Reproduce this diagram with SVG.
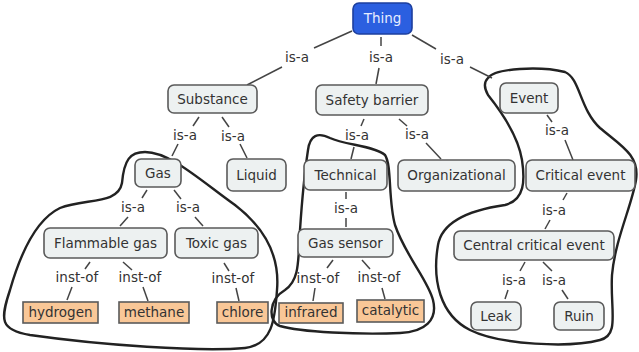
<svg xmlns="http://www.w3.org/2000/svg" width="639" height="352" viewBox="0 0 639 352">
<style>
.n rect{fill:#edf1f1;stroke:#5a5a5a;stroke-width:1.6}
.lf rect{fill:#f9c797;stroke:#5a5a5a;stroke-width:1.6}
text{font-family:"DejaVu Sans",Verdana,sans-serif;font-size:13.5px;fill:#333;text-anchor:middle}
.c line{stroke:#444;stroke-width:1.5}
.blob{fill:none;stroke:#222;stroke-width:2.4;stroke-linejoin:round}
</style>
<rect width="639" height="352" fill="#fff"/>
<g id="groups">
<path class="blob" d="M122,183 C124,160 130,152 145,152 C170,152 200,180 235,205 C265,228 280,255 277,290 C275,320 272,345 245,348 C200,352 100,345 30,335 C0,330 0,320 10,290 C20,255 35,220 60,208 C85,198 118,205 122,183 Z"/>
<path class="blob" d="M308,150 C310,135 318,132 330,138 C345,145 375,146 385,155 C392,165 388,200 395,225 C405,255 428,280 433,300 C438,320 425,332 400,333 C360,335 300,332 280,326 C268,322 268,300 285,290 C300,280 298,260 300,230 C302,200 305,170 308,150 Z"/>
<path class="blob" d="M488,78 C495,68 540,66 565,72 C580,78 580,110 600,128 C620,145 640,155 636,180 C632,205 615,240 612,275 C610,310 620,335 600,340 C570,348 500,345 470,330 C440,315 432,280 438,245 C442,222 470,210 505,205 C525,200 525,180 522,160 C518,135 500,110 488,95 C484,88 484,82 488,78 Z"/>
</g>
<g id="connectors" class="c">
<line x1="352" y1="31" x2="314" y2="48"/><line x1="282" y1="67" x2="247" y2="85"/>
<line x1="381" y1="37" x2="381" y2="46"/><line x1="379" y1="68" x2="376" y2="84"/>
<line x1="412" y1="35" x2="436" y2="49"/><line x1="470" y1="67" x2="492" y2="78"/>
<line x1="199" y1="117" x2="193" y2="126"/><line x1="178" y1="144" x2="172" y2="156"/>
<line x1="222" y1="117" x2="229" y2="127"/><line x1="240" y1="144" x2="247" y2="158"/>
<line x1="147" y1="190" x2="142" y2="198"/><line x1="128" y1="217" x2="120" y2="226"/>
<line x1="174" y1="190" x2="181" y2="199"/><line x1="195" y1="217" x2="203" y2="226"/>
<line x1="90" y1="262" x2="85" y2="269"/><line x1="72" y1="287" x2="67" y2="300"/>
<line x1="123" y1="262" x2="132" y2="270"/><line x1="143" y1="287" x2="148" y2="301"/>
<line x1="224" y1="263" x2="229" y2="271"/><line x1="236" y1="288" x2="239" y2="301"/>
<line x1="364" y1="119" x2="361" y2="126"/><line x1="354" y1="147" x2="351" y2="159"/>
<line x1="399" y1="119" x2="407" y2="126"/><line x1="426" y1="143" x2="441" y2="159"/>
<line x1="346" y1="192" x2="346" y2="199"/><line x1="346" y1="218" x2="346" y2="227"/>
<line x1="333" y1="260" x2="327" y2="268"/><line x1="315" y1="288" x2="313" y2="301"/>
<line x1="362" y1="260" x2="370" y2="269"/><line x1="382" y1="288" x2="385" y2="299"/>
<line x1="547" y1="115" x2="552" y2="122"/><line x1="565" y1="140" x2="573" y2="160"/>
<line x1="567" y1="193" x2="563" y2="200"/><line x1="550" y1="220" x2="545" y2="229"/>
<line x1="525" y1="262" x2="520" y2="271"/><line x1="508" y1="290" x2="505" y2="299"/>
<line x1="543" y1="262" x2="552" y2="271"/><line x1="562" y1="290" x2="568" y2="299"/>
</g>
<g id="labels">
<text x="297" y="62">is-a</text>
<text x="381" y="62">is-a</text>
<text x="452" y="64">is-a</text>
<text x="185" y="140">is-a</text>
<text x="233" y="141">is-a</text>
<text x="357" y="140">is-a</text>
<text x="417" y="139">is-a</text>
<text x="557" y="135">is-a</text>
<text x="133" y="212">is-a</text>
<text x="188" y="212">is-a</text>
<text x="346" y="213">is-a</text>
<text x="554" y="215">is-a</text>
<text x="77" y="282">inst-of</text>
<text x="140" y="282">inst-of</text>
<text x="233" y="283">inst-of</text>
<text x="318" y="283">inst-of</text>
<text x="379" y="282">inst-of</text>
<text x="514" y="285">is-a</text>
<text x="554" y="285">is-a</text>
</g>
<g id="thing"><rect x="353" y="3" width="59" height="31" rx="6" fill="#2b5fe0" stroke="#1d3f9e" stroke-width="1.6"/><text x="382.5" y="23" style="fill:#e6edff">Thing</text></g>
<g id="substance" class="n"><rect x="168" y="85" width="89" height="28" rx="6"/><text x="212.5" y="104">Substance</text></g>
<g id="safety-barrier" class="n"><rect x="316" y="85" width="112" height="30" rx="6"/><text x="372" y="105">Safety barrier</text></g>
<g id="event" class="n"><rect x="500" y="83" width="58" height="30" rx="6"/><text x="529" y="103">Event</text></g>
<g id="gas" class="n"><rect x="135" y="159" width="46" height="28" rx="6"/><text x="158" y="178">Gas</text></g>
<g id="liquid" class="n"><rect x="227" y="159" width="59" height="32" rx="6"/><text x="256.5" y="180">Liquid</text></g>
<g id="technical" class="n"><rect x="304" y="160" width="83" height="30" rx="6"/><text x="345.5" y="180">Technical</text></g>
<g id="organizational" class="n"><rect x="398" y="160" width="117" height="31" rx="6"/><text x="456.5" y="180">Organizational</text></g>
<g id="critical-event" class="n"><rect x="526" y="160" width="109" height="31" rx="6"/><text x="580.5" y="180">Critical event</text></g>
<g id="flammable-gas" class="n"><rect x="44" y="228" width="123" height="30" rx="6"/><text x="105.5" y="248">Flammable gas</text></g>
<g id="toxic-gas" class="n"><rect x="175" y="228" width="83" height="30" rx="6"/><text x="216.5" y="248">Toxic gas</text></g>
<g id="gas-sensor" class="n"><rect x="298" y="229" width="95" height="28" rx="6"/><text x="345.5" y="248">Gas sensor</text></g>
<g id="central-critical-event" class="n"><rect x="454" y="231" width="160" height="29" rx="6"/><text x="534" y="250">Central critical event</text></g>
<g id="leak" class="n"><rect x="471" y="302" width="50" height="28" rx="6"/><text x="496" y="321">Leak</text></g>
<g id="ruin" class="n"><rect x="554" y="302" width="50" height="28" rx="6"/><text x="579" y="321">Ruin</text></g>
<g id="hydrogen" class="lf"><rect x="23" y="302" width="75" height="21"/><text x="60.5" y="317">hydrogen</text></g>
<g id="methane" class="lf"><rect x="119" y="302" width="70" height="21"/><text x="154" y="317">methane</text></g>
<g id="chlore" class="lf"><rect x="217" y="302" width="51" height="21"/><text x="242.5" y="317">chlore</text></g>
<g id="infrared" class="lf"><rect x="279" y="303" width="64" height="20"/><text x="311" y="317">infrared</text></g>
<g id="catalytic" class="lf"><rect x="357" y="300" width="67" height="22"/><text x="390.5" y="315">catalytic</text></g>
</svg>
